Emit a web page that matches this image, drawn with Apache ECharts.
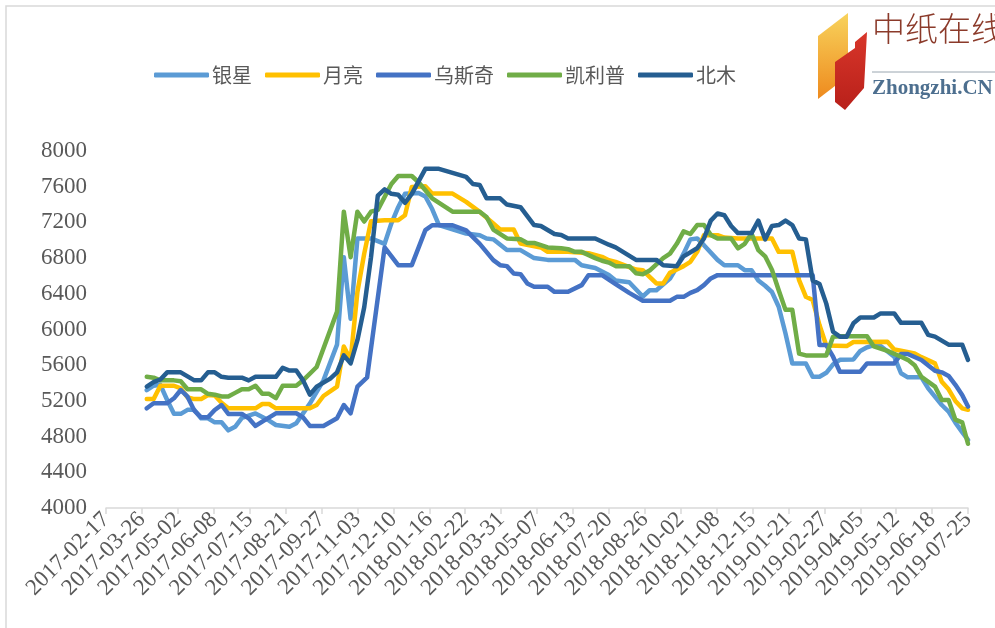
<!DOCTYPE html>
<html><head><meta charset="utf-8">
<script src="https://cdn.jsdelivr.net/npm/echarts@6/dist/echarts.min.js"></script>
<style>html,body{margin:0;padding:0;background:#fff}#c{width:995px;height:628px}</style>
</head><body><div id="c"></div>
<script>
const xTickLabels = ['2017-02-17','2017-03-26','2017-05-02','2017-06-08','2017-07-15','2017-08-21','2017-09-27','2017-11-03','2017-12-10','2018-01-16','2018-02-22','2018-03-31','2018-05-07','2018-06-13','2018-07-20','2018-08-26','2018-10-02','2018-11-08','2018-12-15','2019-01-21','2019-02-27','2019-04-05','2019-05-12','2019-06-18','2019-07-25'];
const seriesNames = ['银星','月亮','乌斯奇','凯利普','北木'];

const yinxing = [['2017-03-31',5320],['2017-04-07',5370],['2017-04-14',5380],['2017-04-21',5210],['2017-04-28',5055],['2017-05-05',5055],['2017-05-12',5100],['2017-05-19',5100],['2017-05-26',5005],['2017-06-02',5005],['2017-06-09',4960],['2017-06-16',4960],['2017-06-23',4870],['2017-06-30',4910],['2017-07-07',5010],['2017-07-21',5060],['2017-08-04',4980],['2017-08-11',4930],['2017-08-25',4910],['2017-09-01',4950],['2017-09-08',5060],['2017-09-15',5170],['2017-09-29',5430],['2017-10-13',5830],['2017-10-20',6810],['2017-10-27',6120],['2017-11-03',7020],['2017-11-17',7020],['2017-12-01',6960],['2017-12-08',7190],['2017-12-15',7370],['2017-12-22',7520],['2018-01-05',7530],['2018-01-12',7490],['2018-01-19',7350],['2018-01-26',7170],['2018-02-23',7075],['2018-03-09',7057],['2018-03-16',7020],['2018-03-23',7010],['2018-04-06',6890],['2018-04-20',6890],['2018-05-04',6800],['2018-05-18',6780],['2018-06-15',6780],['2018-06-22',6720],['2018-07-06',6690],['2018-07-20',6610],['2018-07-27',6550],['2018-08-10',6530],['2018-08-24',6370],['2018-08-31',6440],['2018-09-07',6440],['2018-09-21',6570],['2018-09-28',6700],['2018-10-05',6850],['2018-10-12',7010],['2018-10-19',7020],['2018-10-26',6945],['2018-11-09',6780],['2018-11-16',6720],['2018-11-30',6720],['2018-12-07',6665],['2018-12-14',6665],['2018-12-21',6550],['2018-12-28',6490],['2019-01-04',6420],['2019-01-11',6255],['2019-01-18',5955],['2019-01-25',5620],['2019-02-08',5620],['2019-02-15',5470],['2019-02-22',5470],['2019-03-01',5515],['2019-03-08',5610],['2019-03-15',5660],['2019-03-29',5665],['2019-04-05',5760],['2019-04-12',5800],['2019-04-19',5826],['2019-04-26',5815],['2019-05-10',5695],['2019-05-17',5510],['2019-05-24',5464],['2019-06-07',5464],['2019-06-14',5340],['2019-06-28',5154],['2019-07-05',5080],['2019-07-12',4957],['2019-07-19',4850],['2019-07-25',4763]];

const yueliang = [['2017-03-31',5220],['2017-04-07',5220],['2017-04-14',5370],['2017-04-28',5370],['2017-05-05',5340],['2017-05-12',5240],['2017-05-19',5220],['2017-05-26',5220],['2017-06-02',5266],['2017-06-09',5260],['2017-06-16',5180],['2017-06-23',5117],['2017-07-21',5117],['2017-07-28',5165],['2017-08-04',5165],['2017-08-11',5117],['2017-09-15',5117],['2017-09-22',5154],['2017-09-29',5255],['2017-10-13',5360],['2017-10-20',5810],['2017-10-27',5660],['2017-11-03',6420],['2017-11-10',6850],['2017-11-17',7213],['2017-12-01',7224],['2017-12-15',7224],['2017-12-22',7280],['2017-12-29',7597],['2018-01-12',7605],['2018-01-19',7523],['2018-02-09',7523],['2018-02-23',7430],['2018-03-09',7318],['2018-03-23',7187],['2018-03-30',7120],['2018-04-13',7120],['2018-04-20',6963],['2018-05-11',6919],['2018-05-18',6870],['2018-06-08',6870],['2018-06-22',6859],['2018-06-29',6855],['2018-07-13',6814],['2018-07-20',6777],['2018-07-27',6758],['2018-08-17',6672],['2018-08-24',6665],['2018-08-31',6590],['2018-09-07',6516],['2018-09-14',6516],['2018-09-21',6635],['2018-10-05',6710],['2018-10-12',6758],['2018-10-19',6870],['2018-10-26',7057],['2018-11-09',7057],['2018-11-16',7030],['2018-11-30',7019],['2019-01-04',7019],['2019-01-11',6870],['2019-01-25',6870],['2019-02-01',6553],['2019-02-08',6366],['2019-02-15',6330],['2019-02-22',6050],['2019-03-01',5820],['2019-03-22',5814],['2019-03-29',5860],['2019-05-03',5863],['2019-05-10',5777],['2019-05-17',5762],['2019-05-31',5732],['2019-06-07',5690],['2019-06-21',5620],['2019-06-28',5415],['2019-07-05',5330],['2019-07-12',5200],['2019-07-19',5117],['2019-07-25',5100]];

const wusiqi = [['2017-03-31',5117],['2017-04-07',5173],['2017-04-21',5173],['2017-04-28',5229],['2017-05-05',5322],['2017-05-12',5247],['2017-05-19',5091],['2017-05-26',5016],['2017-06-02',5016],['2017-06-09',5098],['2017-06-16',5154],['2017-06-23',5054],['2017-07-07',5054],['2017-07-14',5005],['2017-07-21',4919],['2017-07-28',4968],['2017-08-11',5061],['2017-09-01',5061],['2017-09-08',5016],['2017-09-15',4919],['2017-09-29',4919],['2017-10-13',5005],['2017-10-20',5154],['2017-10-27',5061],['2017-11-03',5359],['2017-11-13',5464],['2017-12-01',6919],['2017-12-15',6721],['2017-12-29',6721],['2018-01-12',7113],['2018-01-19',7168],['2018-02-09',7168],['2018-02-23',7110],['2018-03-09',6960],['2018-03-23',6777],['2018-03-30',6721],['2018-04-06',6710],['2018-04-13',6628],['2018-04-20',6620],['2018-04-27',6516],['2018-05-04',6479],['2018-05-18',6479],['2018-05-25',6422],['2018-06-08',6422],['2018-06-22',6497],['2018-06-29',6609],['2018-07-13',6609],['2018-07-27',6508],['2018-08-10',6411],['2018-08-24',6322],['2018-09-21',6322],['2018-09-28',6366],['2018-10-05',6366],['2018-10-12',6411],['2018-10-19',6441],['2018-10-26',6497],['2018-11-02',6572],['2018-11-09',6609],['2019-02-15',6609],['2019-02-22',5826],['2019-03-01',5826],['2019-03-08',5695],['2019-03-15',5527],['2019-04-05',5527],['2019-04-12',5620],['2019-05-10',5620],['2019-05-17',5725],['2019-05-24',5725],['2019-06-07',5658],['2019-06-21',5538],['2019-06-28',5520],['2019-07-05',5480],['2019-07-12',5380],['2019-07-19',5266],['2019-07-25',5136]];

const kailipu = [['2017-03-31',5470],['2017-04-07',5460],['2017-04-14',5430],['2017-04-28',5430],['2017-05-05',5420],['2017-05-12',5330],['2017-05-26',5330],['2017-06-02',5280],['2017-06-09',5270],['2017-06-16',5250],['2017-06-23',5250],['2017-06-30',5290],['2017-07-07',5330],['2017-07-14',5330],['2017-07-21',5370],['2017-07-28',5280],['2017-08-04',5280],['2017-08-11',5230],['2017-08-18',5370],['2017-09-01',5370],['2017-09-08',5430],['2017-09-22',5580],['2017-10-13',6200],['2017-10-20',7320],['2017-10-27',6810],['2017-11-03',7320],['2017-11-10',7210],['2017-11-17',7320],['2017-11-24',7340],['2017-12-08',7630],['2017-12-15',7720],['2017-12-29',7720],['2018-01-05',7650],['2018-01-19',7470],['2018-02-09',7320],['2018-03-09',7320],['2018-03-16',7260],['2018-03-23',7120],['2018-04-06',7020],['2018-04-20',7010],['2018-04-27',6970],['2018-05-04',6970],['2018-05-18',6920],['2018-06-01',6910],['2018-06-08',6900],['2018-06-15',6870],['2018-06-22',6870],['2018-07-06',6800],['2018-07-13',6770],['2018-07-20',6750],['2018-07-27',6710],['2018-08-10',6710],['2018-08-17',6630],['2018-08-24',6620],['2018-08-31',6660],['2018-09-14',6800],['2018-09-21',6850],['2018-09-28',6960],['2018-10-05',7100],['2018-10-12',7070],['2018-10-19',7170],['2018-10-26',7170],['2018-11-02',7060],['2018-11-09',7020],['2018-11-23',7020],['2018-11-30',6910],['2018-12-07',6960],['2018-12-14',7075],['2018-12-21',6890],['2018-12-28',6820],['2019-01-04',6670],['2019-01-11',6440],['2019-01-18',6220],['2019-01-25',6220],['2019-02-01',5730],['2019-02-08',5710],['2019-03-01',5710],['2019-03-08',5920],['2019-03-15',5925],['2019-04-12',5925],['2019-04-19',5810],['2019-05-03',5760],['2019-05-17',5695],['2019-05-24',5660],['2019-05-31',5600],['2019-06-07',5470],['2019-06-21',5360],['2019-06-28',5210],['2019-07-05',5210],['2019-07-12',4990],['2019-07-19',4960],['2019-07-25',4720]];

const beimu = [['2017-03-31',5360],['2017-04-07',5410],['2017-04-14',5440],['2017-04-21',5520],['2017-05-05',5520],['2017-05-19',5430],['2017-05-26',5430],['2017-06-02',5520],['2017-06-09',5520],['2017-06-16',5470],['2017-06-23',5460],['2017-07-07',5460],['2017-07-14',5430],['2017-07-21',5470],['2017-08-11',5470],['2017-08-18',5570],['2017-08-25',5540],['2017-09-01',5540],['2017-09-08',5430],['2017-09-15',5270],['2017-09-22',5360],['2017-10-06',5450],['2017-10-13',5520],['2017-10-20',5710],['2017-10-27',5620],['2017-11-03',5880],['2017-11-10',6250],['2017-11-17',6810],['2017-11-24',7500],['2017-12-01',7570],['2017-12-08',7520],['2017-12-15',7510],['2017-12-22',7420],['2017-12-29',7520],['2018-01-12',7800],['2018-01-26',7800],['2018-02-23',7710],['2018-03-02',7630],['2018-03-09',7620],['2018-03-16',7470],['2018-03-30',7470],['2018-04-06',7400],['2018-04-20',7370],['2018-05-04',7170],['2018-05-11',7160],['2018-05-25',7070],['2018-06-01',7060],['2018-06-08',7020],['2018-07-06',7020],['2018-07-20',6950],['2018-07-27',6920],['2018-08-17',6780],['2018-09-07',6780],['2018-09-14',6720],['2018-09-28',6710],['2018-10-05',6820],['2018-10-19',6910],['2018-10-26',7020],['2018-11-02',7220],['2018-11-09',7300],['2018-11-16',7280],['2018-11-23',7160],['2018-11-30',7080],['2018-12-14',7080],['2018-12-21',7220],['2018-12-28',7010],['2019-01-04',7160],['2019-01-11',7170],['2019-01-18',7220],['2019-01-25',7170],['2019-02-01',7020],['2019-02-08',7010],['2019-02-15',6550],['2019-02-22',6510],['2019-03-01',6290],['2019-03-08',5975],['2019-03-15',5920],['2019-03-22',5920],['2019-03-29',6070],['2019-04-05',6135],['2019-04-19',6135],['2019-04-26',6180],['2019-05-10',6180],['2019-05-17',6075],['2019-06-07',6075],['2019-06-14',5940],['2019-06-21',5920],['2019-07-05',5830],['2019-07-19',5830],['2019-07-25',5660]];

const colors = ['#5B9BD5','#FFC000','#4472C4','#70AD47','#255E91'];
const allData = [yinxing, yueliang, wusiqi, kailipu, beimu];

const DAY = 86400000;
const base = Date.parse(xTickLabels[0] + 'T00:00:00Z');
const toDay = s => Math.round((Date.parse(s + 'T00:00:00Z') - base) / DAY);
const STEP = 37;
const XMAX = STEP * (xTickLabels.length - 1);

const chart = echarts.init(document.getElementById('c'));
chart.setOption({
  animation: false,
  backgroundColor: '#fff',
  color: colors,
  legend: {
    left: 149, top: 60, padding: 5,
    icon: 'roundRect', itemWidth: 55, itemHeight: 5, itemGap: 13,
    textStyle: {fontSize: 20, color: '#595959', fontFamily: 'Noto Sans CJK SC', padding: [0,0,0,-2]},
    data: seriesNames
  },
  grid: {left: 106, right: 27, top: 151, bottom: 120, containLabel: false},
  xAxis: {
    type: 'value', min: 0, max: XMAX, interval: STEP,
    axisLine: {show: true, lineStyle: {color: '#d9d9d9', width: 1.5}},
    axisTick: {show: true, length: 6, lineStyle: {color: '#d9d9d9', width: 1.5}},
    splitLine: {show: false},
    axisLabel: {
      rotate: 45, margin: 8, fontSize: 23, color: '#595959', fontFamily: 'Liberation Serif',
      showMinLabel: true, showMaxLabel: true,
      formatter: v => xTickLabels[Math.round(v / STEP)] || ''
    }
  },
  yAxis: {
    type: 'value', min: 4000, max: 8000, interval: 400,
    axisLine: {show: false}, axisTick: {show: false}, splitLine: {show: false},
    axisLabel: {margin: 19, fontSize: 23, color: '#595959', fontFamily: 'Liberation Serif', formatter: v => String(v)}
  },
  series: seriesNames.map((n, i) => ({
    name: n, type: 'line', symbol: 'none', smooth: false,
    lineStyle: {width: 4.5, color: colors[i], cap: 'round', join: 'round'},
    itemStyle: {color: colors[i]},
    data: allData[i].map(d => [toDay(d[0]), d[1]])
  })),
  graphic: [
    {type: 'rect', shape: {x: 6, y: 6, width: 1100, height: 700}, style: {fill: 'none', stroke: '#d9d9d9', lineWidth: 1.5}, silent: true},
    {type: 'polygon', shape: {points: [[818,36],[848,13],[848,76],[818,99]]},
      style: {fill: new echarts.graphic.LinearGradient(0,0,0,1,[{offset:0,color:'#F8D35C'},{offset:1,color:'#EE8A1E'}])}},
    {type: 'polygon', shape: {points: [[835,62],[855,48],[855,42],[867,32],[864,88],[845,110],[835,102]]},
      style: {fill: new echarts.graphic.LinearGradient(0,0,0,1,[{offset:0,color:'#D8362A'},{offset:1,color:'#B8201A'}])}},
    {type: 'text', left: 872, top: 12, style: {text: '中纸在线', fontSize: 33, fontWeight: 300, fill: '#8b3a2a', fontFamily: 'Noto Sans CJK SC'}},
    {type: 'line', shape: {x1: 872, y1: 72, x2: 995, y2: 72}, style: {stroke: '#9aa6b0', lineWidth: 1}},
    {type: 'text', left: 872, top: 78, style: {text: 'Zhongzhi.CN', fontSize: 21, fontWeight: 'bold', fill: '#4d6f8f', fontFamily: 'Liberation Serif'}}
  ]
});
</script></body></html>
